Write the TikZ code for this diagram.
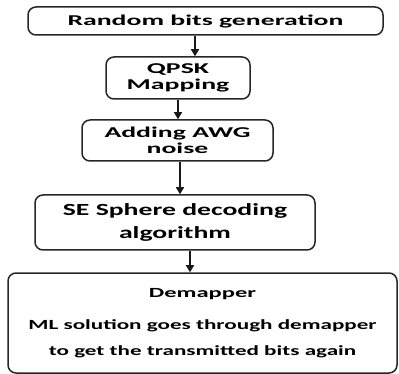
\documentclass[tikz,border=0pt]{standalone}
\usepackage{fontspec}
\setmainfont{Carlito}
\usetikzlibrary{arrows.meta}
\newcommand{\wx}[1]{\scalebox{1.85}[1]{#1}}
\newcommand{\wy}[1]{\scalebox{1.65}[1]{#1}}
\newcommand{\wz}[1]{\scalebox{1.63}[1]{#1}}
\begin{document}
\begin{tikzpicture}[x=1pt,y=-1pt,
  box/.style={draw=black!85,line width=1.5pt,rounded corners=8pt,inner sep=0pt,align=center,
    font=\fontsize{15}{16.5}\selectfont\bfseries},
  arr/.style={draw=black!90,line width=1.5pt,-{Triangle[length=7pt,width=8pt]}}]
\useasboundingbox (0,0) rectangle (399,374);
\node[box,minimum width=355pt,minimum height=28pt] (b1) at (205.5,21) {\wx{Random bits generation}};
\node[box,minimum width=144pt,minimum height=42pt] (b2) at (178,78) {\wx{QPSK}\\\wx{Mapping}};
\node[box,minimum width=191pt,minimum height=41pt] (b3) at (177.5,140.5) {\wx{Adding AWG}\\\wx{noise}};
\node[box,minimum width=280pt,minimum height=55pt,font=\fontsize{17}{23}\selectfont\bfseries] (b4) at (175,222.5) {\wz{SE Sphere decoding}\\\wz{algorithm}};
\node[box,minimum width=389pt,minimum height=100pt,font=\fontsize{14}{16}\selectfont\bfseries] (b5) at (202.5,323)
  {\raisebox{6pt}{\begin{tabular}{@{}c@{}}\scalebox{1.75}[1]{Demapper}\\[16pt]\wy{ML solution goes through demapper}\\[10pt]\wy{to get the transmitted bits again}\end{tabular}}};
\coordinate (c1) at (195,0);
\coordinate (c2) at (178,0);
\coordinate (c3) at (180,0);
\coordinate (c4) at (190,0);
\draw[arr] (b1.south -| c1) -- (b2.north -| c1);
\draw[arr] (b2.south -| c2) -- (b3.north -| c2);
\draw[arr] (b3.south -| c3) -- (b4.north -| c3);
\draw[arr] (b4.south -| c4) -- (b5.north -| c4);
\end{tikzpicture}
\end{document}
